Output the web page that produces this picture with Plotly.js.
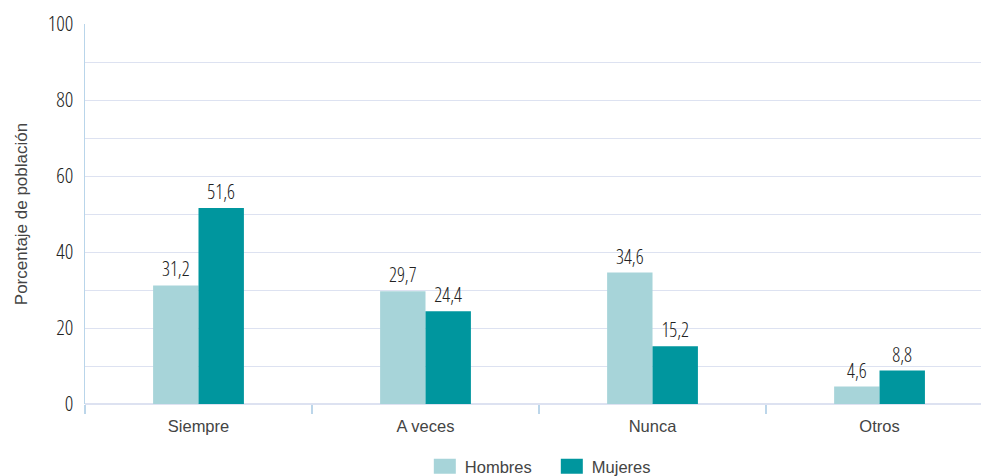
<!DOCTYPE html>
<html>
<head>
<meta charset="utf-8">
<script src="https://cdn.plot.ly/plotly-3.0.1.min.js"></script>
<style>
html,body{margin:0;padding:0;background:#fff;}
#chart{width:981px;height:476px;}
.ytick text, .bartext { font-stretch: 82% !important; font-weight: 360 !important; }
</style>
</head>
<body>
<div id="chart"></div>
<script>
const categories = ["Siempre", "A veces", "Nunca", "Otros"];
const hombres = [31.2, 29.7, 34.6, 4.6];
const mujeres = [51.6, 24.4, 15.2, 8.8];
const seriesNames = ["Hombres", "Mujeres"];
const yTicks = [0, 20, 40, 60, 80, 100];

const condFamily = "Open Sans, DejaVu Sans Condensed, sans-serif";
const numFont = {family: condFamily, size: 19.5, color: "#222"};
const txtFont = {family: "Liberation Sans, Arial, sans-serif", size: 16.5, color: "#444"};

const traces = [
  {type: "bar", name: seriesNames[0], x: categories, y: hombres,
   marker: {color: "#a7d4d9"}, texttemplate: "%{y:.1f}", textposition: "outside",
   textfont: numFont, cliponaxis: false, hoverinfo: "skip"},
  {type: "bar", name: seriesNames[1], x: categories, y: mujeres,
   marker: {color: "#00969e"}, texttemplate: "%{y:.1f}", textposition: "outside",
   textfont: numFont, cliponaxis: false, hoverinfo: "skip"}
];

const layout = {
  width: 981, height: 476,
  margin: {l: 85, r: 0, t: 24, b: 72},
  paper_bgcolor: "#fff", plot_bgcolor: "#fff",
  separators: ",.",
  barmode: "group", bargap: 0.6, bargroupgap: 0,
  showlegend: true,
  legend: {orientation: "h", x: 0.521, xanchor: "center", yref: "container", y: 0.020, yanchor: "middle",
           font: txtFont, entrywidth: 82, traceorder: "normal"},
  xaxis: {range: [-0.5, 3.447], showgrid: false, zeroline: false, showline: false,
          ticks: "outside", tickson: "boundaries", ticklen: 9, tickwidth: 1.5, tickcolor: "#bcd6ea",
          tickfont: txtFont, ticklabelstandoff: 10, fixedrange: true},
  yaxis: {range: [0, 100], tickvals: yTicks, ticktext: yTicks.map(String),
          showgrid: true, gridcolor: "#dde2f1", gridwidth: 1,
          minor: {dtick: 10, showgrid: true, gridcolor: "#dde2f1", gridwidth: 1},
          zeroline: true, zerolinecolor: "#dde2f1", zerolinewidth: 1.5,
          showline: true, linecolor: "#b9d5ea", linewidth: 1.5,
          ticks: "", ticklabelstandoff: 6, tickfont: {family: condFamily, size: 21, color: "#222"},
          title: {text: "Porcentaje de población", font: {family: txtFont.family, size: 17, color: "#444"}, standoff: 15},
          fixedrange: true}
};

Plotly.newPlot("chart", traces, layout, {displayModeBar: false, staticPlot: true}).then(function(){
  document.querySelectorAll(".legend .legendpoints path").forEach(function(p){
    p.setAttribute("d", "M11,7.5H-11V-7.5H11Z");
  });
});
</script>
</body>
</html>
